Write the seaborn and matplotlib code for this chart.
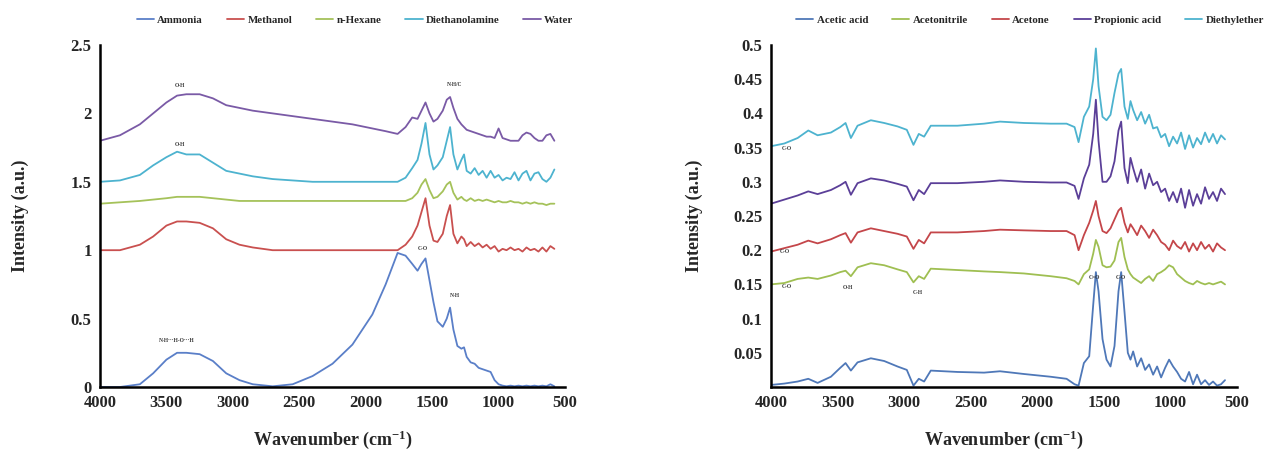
import numpy as np
import pandas as pd
import matplotlib
matplotlib.use("Agg")
import matplotlib.pyplot as plt
import seaborn as sns

# ---- Left panel: solvent spectra -------------------------------------------
wn_left = [4000, 3850, 3700, 3600, 3500, 3420, 3350, 3250, 3150, 3050,
           2950, 2850, 2700, 2550, 2400, 2250, 2100, 1950, 1850, 1760,
           1700, 1650, 1610, 1580, 1550, 1520, 1490, 1460, 1420, 1390,
           1365, 1340, 1310, 1280, 1260, 1240, 1210, 1180, 1150, 1120,
           1090, 1060, 1030, 1000, 970, 940, 910, 880, 850, 820,
           790, 760, 730, 700, 670, 640, 610, 580]

ammonia = [0.0, 0.0, 0.02, 0.10, 0.20, 0.25, 0.25, 0.24, 0.19, 0.10,
           0.05, 0.02, 0.005, 0.02, 0.08, 0.17, 0.31, 0.53, 0.75, 0.98,
           0.96, 0.90, 0.85, 0.90, 0.94, 0.78, 0.62, 0.48, 0.44, 0.50,
           0.58, 0.42, 0.30, 0.28, 0.29, 0.22, 0.18, 0.17, 0.14, 0.13,
           0.12, 0.11, 0.05, 0.02, 0.01, 0.005, 0.01, 0.005, 0.01, 0.005,
           0.01, 0.005, 0.01, 0.005, 0.01, 0.005, 0.02, 0.005]

methanol = [1.0, 1.0, 1.04, 1.10, 1.18, 1.21, 1.21, 1.20, 1.16, 1.08,
            1.04, 1.02, 1.0, 1.0, 1.0, 1.0, 1.0, 1.0, 1.0, 1.0,
            1.04, 1.10, 1.18, 1.28, 1.38, 1.18, 1.07, 1.06, 1.12, 1.25,
            1.33, 1.12, 1.05, 1.10, 1.08, 1.03, 1.06, 1.03, 1.05, 1.02,
            1.04, 1.01, 1.03, 0.99, 1.01, 1.00, 1.02, 1.00, 1.01, 0.99,
            1.02, 1.00, 1.01, 0.99, 1.02, 0.99, 1.03, 1.01]

n_hexane = [1.34, 1.35, 1.36, 1.37, 1.38, 1.39, 1.39, 1.39, 1.38, 1.37,
            1.36, 1.36, 1.36, 1.36, 1.36, 1.36, 1.36, 1.36, 1.36, 1.36,
            1.36, 1.38, 1.42, 1.48, 1.52, 1.44, 1.38, 1.39, 1.43, 1.48,
            1.50, 1.42, 1.37, 1.39, 1.37, 1.36, 1.38, 1.36, 1.37, 1.36,
            1.37, 1.36, 1.35, 1.36, 1.35, 1.35, 1.36, 1.35, 1.35, 1.34,
            1.35, 1.34, 1.35, 1.34, 1.34, 1.33, 1.34, 1.34]

diethanolamine = [1.50, 1.51, 1.55, 1.62, 1.68, 1.72, 1.70, 1.70, 1.64, 1.58,
                  1.56, 1.54, 1.52, 1.51, 1.50, 1.50, 1.50, 1.50, 1.50, 1.50,
                  1.53, 1.60, 1.66, 1.78, 1.93, 1.70, 1.59, 1.62, 1.68, 1.80,
                  1.90, 1.70, 1.59, 1.66, 1.70, 1.58, 1.56, 1.60, 1.55, 1.58,
                  1.53, 1.58, 1.53, 1.55, 1.51, 1.53, 1.52, 1.57, 1.51, 1.56,
                  1.58, 1.51, 1.56, 1.57, 1.52, 1.50, 1.53, 1.59]

water = [1.80, 1.84, 1.92, 2.00, 2.08, 2.13, 2.14, 2.14, 2.11, 2.06,
         2.04, 2.02, 2.00, 1.98, 1.96, 1.94, 1.92, 1.89, 1.87, 1.85,
         1.90, 1.97, 1.96, 2.02, 2.08, 2.00, 1.94, 1.96, 2.02, 2.10,
         2.12, 2.04, 1.96, 1.92, 1.90, 1.88, 1.87, 1.86, 1.85, 1.84,
         1.83, 1.83, 1.82, 1.89, 1.82, 1.81, 1.80, 1.80, 1.80, 1.84,
         1.86, 1.85, 1.82, 1.80, 1.80, 1.84, 1.85, 1.80]

left_names = ["Ammonia", "Methanol", "n-Hexane", "Diethanolamine", "Water"]
left_colors = ["#5a7fc8", "#c9504f", "#a5c25a", "#4db3cf", "#7a5aa6"]

# ---- Right panel: acid / solvent spectra -----------------------------------
wn_right = [4000, 3900, 3800, 3720, 3650, 3550, 3480, 3440, 3400, 3350,
            3250, 3150, 3050, 2980, 2930, 2890, 2850, 2800, 2600, 2400,
            2280, 2100, 1900, 1780, 1720, 1690, 1650, 1610, 1580, 1560,
            1540, 1510, 1480, 1450, 1420, 1390, 1370, 1345, 1320, 1300,
            1280, 1250, 1220, 1190, 1160, 1130, 1100, 1070, 1040, 1010,
            980, 950, 920, 890, 860, 830, 800, 770, 740, 710,
            680, 650, 620, 590]

acetic_acid = [0.003, 0.005, 0.008, 0.012, 0.006, 0.015, 0.028, 0.035, 0.024, 0.036,
               0.042, 0.038, 0.030, 0.025, 0.002, 0.012, 0.008, 0.024, 0.022, 0.021,
               0.023, 0.019, 0.015, 0.012, 0.004, 0.002, 0.035, 0.045, 0.12, 0.168,
               0.14, 0.07, 0.04, 0.03, 0.06, 0.14, 0.168, 0.11, 0.05, 0.04,
               0.052, 0.03, 0.042, 0.025, 0.033, 0.018, 0.03, 0.014, 0.028, 0.040,
               0.03, 0.022, 0.012, 0.008, 0.022, 0.004, 0.018, 0.004, 0.010, 0.003,
               0.008, 0.002, 0.004, 0.010]

acetonitrile = [0.150, 0.152, 0.158, 0.160, 0.158, 0.163, 0.168, 0.170, 0.162, 0.175,
                0.181, 0.178, 0.172, 0.168, 0.153, 0.162, 0.158, 0.173, 0.171, 0.169,
                0.168, 0.166, 0.162, 0.159, 0.155, 0.150, 0.165, 0.172, 0.195, 0.215,
                0.205, 0.178, 0.175, 0.176, 0.185, 0.212, 0.218, 0.19, 0.172, 0.165,
                0.160, 0.156, 0.152, 0.158, 0.162, 0.155, 0.165, 0.168, 0.172, 0.178,
                0.175, 0.165, 0.160, 0.155, 0.152, 0.150, 0.155, 0.152, 0.150, 0.152,
                0.150, 0.152, 0.154, 0.150]

acetone = [0.198, 0.203, 0.208, 0.214, 0.210, 0.216, 0.222, 0.225, 0.211, 0.226,
           0.232, 0.228, 0.224, 0.220, 0.202, 0.215, 0.210, 0.226, 0.226, 0.228,
           0.230, 0.229, 0.228, 0.228, 0.222, 0.200, 0.222, 0.240, 0.258, 0.272,
           0.250, 0.228, 0.225, 0.232, 0.245, 0.258, 0.262, 0.240, 0.226, 0.238,
           0.232, 0.222, 0.236, 0.228, 0.218, 0.230, 0.222, 0.212, 0.208, 0.200,
           0.214, 0.206, 0.202, 0.212, 0.198, 0.210, 0.200, 0.212, 0.202, 0.208,
           0.198, 0.210, 0.204, 0.200]

propionic_acid = [0.268, 0.274, 0.280, 0.286, 0.282, 0.288, 0.295, 0.300, 0.281, 0.298,
                  0.305, 0.302, 0.297, 0.293, 0.273, 0.288, 0.282, 0.298, 0.298, 0.300,
                  0.302, 0.300, 0.299, 0.299, 0.294, 0.275, 0.305, 0.325, 0.37, 0.42,
                  0.36, 0.30, 0.300, 0.308, 0.33, 0.375, 0.388, 0.32, 0.298, 0.335,
                  0.32, 0.300, 0.318, 0.290, 0.312, 0.295, 0.300, 0.285, 0.290, 0.272,
                  0.285, 0.270, 0.290, 0.262, 0.288, 0.265, 0.282, 0.268, 0.292, 0.275,
                  0.285, 0.272, 0.290, 0.282]

diethylether = [0.352, 0.356, 0.364, 0.375, 0.368, 0.372, 0.380, 0.386, 0.364, 0.382,
                0.390, 0.386, 0.381, 0.376, 0.354, 0.370, 0.366, 0.382, 0.382, 0.385,
                0.388, 0.386, 0.385, 0.385, 0.380, 0.358, 0.395, 0.410, 0.45, 0.495,
                0.44, 0.395, 0.39, 0.398, 0.43, 0.458, 0.465, 0.41, 0.392, 0.418,
                0.405, 0.390, 0.402, 0.385, 0.398, 0.378, 0.380, 0.365, 0.370, 0.352,
                0.366, 0.356, 0.372, 0.348, 0.368, 0.350, 0.364, 0.355, 0.372, 0.358,
                0.370, 0.356, 0.368, 0.362]

right_names = ["Acetic acid", "Acetonitrile", "Acetone", "Propionic acid", "Diethylether"]
right_colors = ["#4f78b8", "#9fbf52", "#c4464a", "#5b3f98", "#4db3cf"]

x_ticks = [4000, 3500, 3000, 2500, 2000, 1500, 1000, 500]
left_yticks = [0, 0.5, 1, 1.5, 2, 2.5]
left_yticklabels = ["0", "0.5", "1", "1.5", "2", "2.5"]
right_yticks = [0.05, 0.1, 0.15, 0.2, 0.25, 0.3, 0.35, 0.4, 0.45, 0.5]
right_yticklabels = ["0.05", "0.1", "0.15", "0.2", "0.25", "0.3", "0.35", "0.4", "0.45", "0.5"]


def long_form(wn, names, series):
    frames = [pd.DataFrame({"wn": wn, "val": s, "sample": n}) for n, s in zip(names, series)]
    return pd.concat(frames, ignore_index=True)


df_left = long_form(wn_left, left_names,
                    [ammonia, methanol, n_hexane, diethanolamine, water])
df_right = long_form(wn_right, right_names,
                     [acetic_acid, acetonitrile, acetone, propionic_acid, diethylether])

sns.set_style("white")
serif = ["Liberation Serif", "DejaVu Serif"]
plt.rcParams["font.family"] = serif
plt.rcParams["font.weight"] = "bold"
plt.rcParams["mathtext.fontset"] = "custom"
plt.rcParams["mathtext.rm"] = "Liberation Serif:bold"
plt.rcParams["mathtext.bf"] = "Liberation Serif:bold"
plt.rcParams["mathtext.it"] = "Liberation Serif:bold"

fig = plt.figure(figsize=(12.67, 4.5), dpi=100)
ax1 = fig.add_axes([100 / 1267, 1 - 387 / 450, 465 / 1267, 342 / 450])
ax2 = fig.add_axes([771 / 1267, 1 - 387 / 450, 466 / 1267, 342 / 450])


def draw_panel(ax, df, names, colors, ylim, yticks, yticklabels, legend_x, ypad):
    sns.lineplot(data=df, x="wn", y="val", hue="sample", hue_order=names,
                 palette=colors, sort=False, estimator=None, linewidth=1.3,
                 ax=ax)
    ax.set_xlim(4000, 500)
    ax.set_ylim(*ylim)
    ax.set_xticks(x_ticks)
    ax.set_xticklabels([str(t) for t in x_ticks])
    ax.set_yticks(yticks)
    ax.set_yticklabels(yticklabels)
    ax.tick_params(axis="both", length=0, labelsize=12, pad=6)
    for lab in ax.get_xticklabels() + ax.get_yticklabels():
        lab.set_fontweight("bold")
    for side in ["top", "right"]:
        ax.spines[side].set_visible(False)
    for side in ["left", "bottom"]:
        ax.spines[side].set_color("black")
        ax.spines[side].set_linewidth(1.8)
    ax.set_xlabel(r"Wavenumber (cm$^{\mathbf{-1}}$)", fontsize=13,
                  fontweight="bold", labelpad=12)
    ax.set_ylabel("Intensity (a.u.)", fontsize=13, fontweight="bold",
                  labelpad=ypad)
    handles, labels = ax.get_legend_handles_labels()
    ax.get_legend().remove()
    fig.legend(handles, labels, loc="center",
               bbox_to_anchor=(legend_x, 1 - 20 / 450), ncol=5, frameon=False,
               prop={"family": serif, "weight": "bold", "size": 7.8},
               handlelength=1.6, handletextpad=0.3, columnspacing=2.2)


draw_panel(ax1, df_left, left_names, left_colors, (0, 2.5),
           left_yticks, left_yticklabels, 355 / 1267, 30)
draw_panel(ax2, df_right, right_names, right_colors, (0, 0.5),
           right_yticks, right_yticklabels, 1030 / 1267, 22)

# Band assignments
small = dict(fontsize=4, fontweight="bold", color="#333333", ha="center")
ax1.text(3400, 2.19, "O-H", **small)
ax1.text(3400, 1.76, "O-H", **small)
ax1.text(1330, 2.2, "N-H/C", **small)
ax1.text(1570, 1.0, "C-O", **small)
ax1.text(1330, 0.66, "N-H", **small)
ax1.text(3420, 0.33, "N-H···H-O···H", **small)

ax2.text(3880, 0.346, "C-O", **small)
ax2.text(3900, 0.196, "C-O", **small)
ax2.text(3880, 0.145, "C-O", **small)
ax2.text(3420, 0.143, "O-H", **small)
ax2.text(2900, 0.136, "C-H", **small)
ax2.text(1570, 0.158, "C=O", **small)
ax2.text(1370, 0.158, "C-O", **small)

fig.savefig("out.png", dpi=100)
